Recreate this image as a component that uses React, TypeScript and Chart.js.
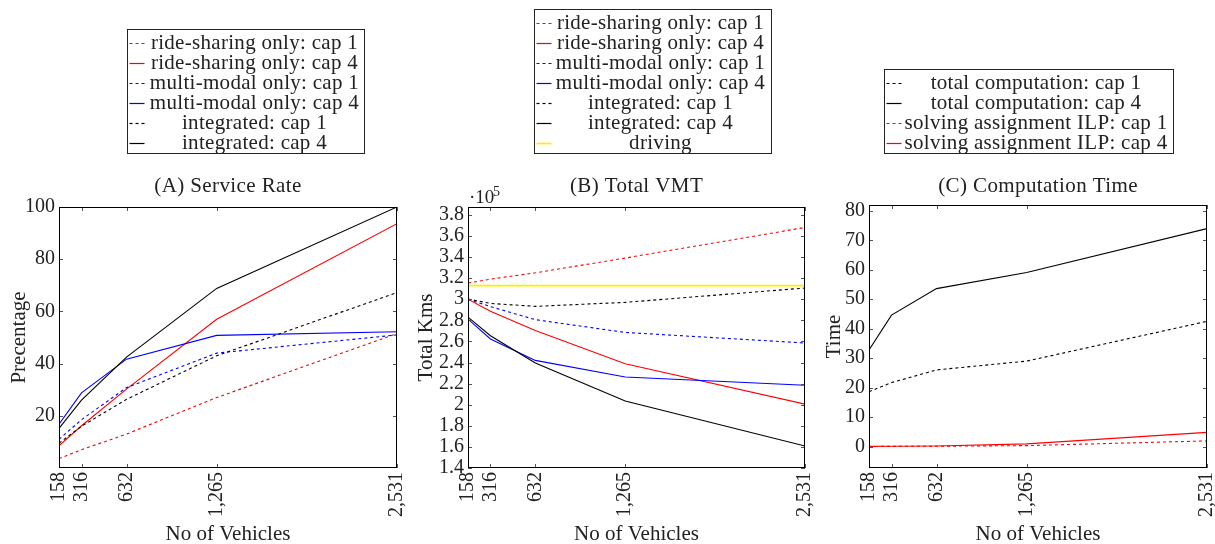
import React, { useEffect, useRef } from "react";
import { Chart, registerables } from "chart.js";

Chart.register(...registerables);

const W = 1215;
const H = 544;
const FONT = '"Liberation Serif", "Times New Roman", serif';
const TEXT = "#222";

// ---------- data ----------
const vehicles = [158, 316, 632, 1265, 2531];

// (A) Service Rate, percentage
const srRideCap1 = [3.6, 7, 13, 27, 51.5];
const srRideCap4 = [8.5, 16.2, 30.2, 57, 93.6];
const srMultiCap1 = [11, 18.5, 30.8, 44, 51];
const srMultiCap4 = [16.8, 28.8, 41.7, 50.8, 52.2];
const srIntCap1 = [9.5, 16, 26.3, 43, 67.2];
const srIntCap4 = [15.2, 26, 42.5, 68.8, 100];
const srTicks = [20, 40, 60, 80, 100];

// (B) Total VMT, km
const vmtRideCap1 = [315400, 319000, 325000, 339000, 368000];
const vmtRideCap4 = [300000, 288500, 270400, 238900, 200500];
const vmtMultiCap1 = [300000, 293000, 280600, 268500, 258500];
const vmtMultiCap4 = [281200, 262300, 242000, 226200, 218400];
const vmtIntCap1 = [300200, 296000, 293200, 297000, 310600];
const vmtIntCap4 = [283000, 265400, 239500, 203500, 160900];
const vmtDriving = [312800, 312800, 312800, 312800, 312800];
const vmtTicks = [140000, 160000, 180000, 200000, 220000, 240000, 260000, 280000, 300000, 320000, 340000, 360000, 380000];

// (C) Computation Time
const ctTotalCap1 = [18.6, 21.7, 26, 29, 42.5];
const ctTotalCap4 = [32.8, 44.6, 53.6, 59.1, 74];
const ctIlpCap1 = [0, 0.05, 0.1, 0.3, 1.9];
const ctIlpCap4 = [0.05, 0.08, 0.15, 0.9, 4.8];
const ctTicks = [0, 10, 20, 30, 40, 50, 60, 70, 80];

const RED = "#ff0000";
const BLUE = "#0000ff";
const BLACK = "#000000";
const YELLOW = "#ffee00";

type Series = { label: string; data: number[]; color: string; dashed: boolean; width?: number };

type Panel = {
  plot: { left: number; top: number; right: number; bottom: number };
  yMin: number;
  yMax: number;
  yTicks: number[];
  yFmt: (v: number) => string;
  series: Series[];
  title: string;
  yTitle: string;
  yTitleX: number;
  legend: { left: number; top: number; right: number; bottom: number; textCenter: number; firstBaseline: number };
  extra?: (ctx: CanvasRenderingContext2D) => void;
};

const panels: Panel[] = [
  {
    plot: { left: 59, top: 207, right: 397, bottom: 468 },
    yMin: 0,
    yMax: 100,
    yTicks: srTicks,
    yFmt: (v) => String(v),
    series: [
      { label: "ride-sharing only: cap 1", data: srRideCap1, color: RED, dashed: true },
      { label: "ride-sharing only: cap 4", data: srRideCap4, color: RED, dashed: false },
      { label: "multi-modal only: cap 1", data: srMultiCap1, color: BLUE, dashed: true },
      { label: "multi-modal only: cap 4", data: srMultiCap4, color: BLUE, dashed: false },
      { label: "integrated: cap 1", data: srIntCap1, color: BLACK, dashed: true },
      { label: "integrated: cap 4", data: srIntCap4, color: BLACK, dashed: false },
    ],
    title: "(A) Service Rate",
    yTitle: "Precentage",
    yTitleX: 25,
    legend: { left: 127, top: 29, right: 364, bottom: 153, textCenter: 254.5, firstBaseline: 48.5 },
  },
  {
    plot: { left: 468, top: 207, right: 805, bottom: 468 },
    yMin: 140000,
    yMax: 387400,
    yTicks: vmtTicks,
    yFmt: (v) => String(Math.round(v / 1e4) / 10),
    series: [
      { label: "ride-sharing only: cap 1", data: vmtRideCap1, color: RED, dashed: true },
      { label: "ride-sharing only: cap 4", data: vmtRideCap4, color: RED, dashed: false },
      { label: "multi-modal only: cap 1", data: vmtMultiCap1, color: BLUE, dashed: true },
      { label: "multi-modal only: cap 4", data: vmtMultiCap4, color: BLUE, dashed: false },
      { label: "integrated: cap 1", data: vmtIntCap1, color: BLACK, dashed: true },
      { label: "integrated: cap 4", data: vmtIntCap4, color: BLACK, dashed: false },
      { label: "driving", data: vmtDriving, color: YELLOW, dashed: false, width: 1.7 },
    ],
    title: "(B) Total VMT",
    yTitle: "Total Kms",
    yTitleX: 431.5,
    legend: { left: 534, top: 9, right: 771, bottom: 153, textCenter: 660.5, firstBaseline: 28.5 },
    extra: (ctx) => {
      ctx.fillStyle = TEXT;
      ctx.textAlign = "left";
      ctx.textBaseline = "alphabetic";
      ctx.font = `19px ${FONT}`;
      ctx.fillText("·10", 469, 203);
      ctx.font = `14px ${FONT}`;
      ctx.fillText("5", 493, 196);
    },
  },
  {
    plot: { left: 869, top: 205, right: 1207, bottom: 468 },
    yMin: -7.3,
    yMax: 82,
    yTicks: ctTicks,
    yFmt: (v) => String(v),
    series: [
      { label: "total computation: cap 1", data: ctTotalCap1, color: BLACK, dashed: true },
      { label: "total computation: cap 4", data: ctTotalCap4, color: BLACK, dashed: false },
      { label: "solving assignment ILP: cap 1", data: ctIlpCap1, color: RED, dashed: true },
      { label: "solving assignment ILP: cap 4", data: ctIlpCap4, color: RED, dashed: false },
    ],
    title: "(C) Computation Time",
    yTitle: "Time",
    yTitleX: 840,
    legend: { left: 884, top: 69, right: 1173, bottom: 153, textCenter: 1036, firstBaseline: 88.5 },
  },
];

const YW = 50;

function makeDecor(p: Panel) {
  return {
    id: "decor",
    afterDatasetsDraw(chart: any) {
      const { ctx, chartArea: a } = chart;
      const xs = chart.scales.x;
      const ys = chart.scales.y;
      ctx.save();
      ctx.setLineDash([]);
      ctx.lineWidth = 1;
      ctx.strokeStyle = "#555";
      ctx.beginPath();
      for (const v of vehicles) {
        const px = Math.round(xs.getPixelForValue(v)) + 0.5;
        ctx.moveTo(px, a.bottom);
        ctx.lineTo(px, a.bottom - 4);
        ctx.moveTo(px, a.top);
        ctx.lineTo(px, a.top + 4);
      }
      for (const v of p.yTicks) {
        const py = Math.round(ys.getPixelForValue(v)) + 0.5;
        ctx.moveTo(a.left, py);
        ctx.lineTo(a.left + 4, py);
        ctx.moveTo(a.right, py);
        ctx.lineTo(a.right - 4, py);
      }
      ctx.stroke();
      ctx.strokeStyle = "#000";
      ctx.strokeRect(a.left + 0.5, a.top + 0.5, a.right - a.left - 1, a.bottom - a.top - 1);
      ctx.restore();
    },
    afterDraw(chart: any) {
      const { ctx, chartArea: a } = chart;
      const cx = (a.left + a.right) / 2;
      ctx.save();
      ctx.fillStyle = TEXT;
      ctx.textBaseline = "alphabetic";
      // title
      ctx.textAlign = "center";
      ctx.font = `21px ${FONT}`;
      (ctx as any).letterSpacing = "0.4px";
      ctx.fillText(p.title, cx, 192);
      (ctx as any).letterSpacing = "0px";
      // x title
      ctx.fillText("No of Vehicles", cx, 540);
      // y title
      ctx.save();
      ctx.translate(p.yTitleX, (a.top + a.bottom) / 2);
      ctx.rotate(-Math.PI / 2);
      ctx.fillText(p.yTitle, 0, 0);
      ctx.restore();
      if (p.extra) p.extra(ctx);
      // legend box and text
      const L = p.legend;
      ctx.lineWidth = 1;
      ctx.setLineDash([]);
      ctx.strokeStyle = "#222";
      ctx.strokeRect(L.left + 0.5, L.top + 0.5, L.right - L.left, L.bottom - L.top);
      ctx.fillStyle = TEXT;
      ctx.font = `21px ${FONT}`;
      ctx.textAlign = "center";
      (ctx as any).letterSpacing = "0.3px";
      p.series.forEach((s, i) => {
        ctx.fillText(s.label, L.textCenter, L.firstBaseline + i * 20);
      });
      (ctx as any).letterSpacing = "0px";
      ctx.restore();
      // legend samples
      p.series.forEach((s, i) => {
        const ly = Math.round(L.firstBaseline + i * 20 - 6) + 0.5;
        ctx.save();
        ctx.lineWidth = s.width ? s.width : 1.2;
        ctx.strokeStyle = s.color;
        ctx.setLineDash(s.dashed ? [3, 3] : []);
        ctx.beginPath();
        ctx.moveTo(L.left + 2.5, ly);
        ctx.lineTo(L.left + 17.5, ly);
        ctx.stroke();
        ctx.restore();
      });
    },
  };
}

function PanelChart({ p }: { p: Panel }) {
  const ref = useRef<HTMLCanvasElement | null>(null);
  useEffect(() => {
    if (!ref.current) return;
    const chart = new Chart(ref.current, {
      type: "line",
      data: {
        datasets: p.series.map((s, i) => ({
          label: s.label,
          data: vehicles.map((x, k) => ({ x, y: s.data[k] })),
          borderColor: s.color,
          backgroundColor: s.color,
          borderWidth: s.width ? s.width : 1.1,
          borderDash: s.dashed ? [3, 3] : [],
          pointRadius: 0,
          tension: 0,
          fill: false,
          order: -i,
        })),
      },
      options: {
        responsive: false,
        animation: false,
        events: [],
        layout: {
          padding: { left: p.plot.left - YW, top: p.plot.top, right: W - p.plot.right, bottom: 0 },
        },
        plugins: {
          legend: { display: false },
          title: { display: false },
          tooltip: { enabled: false },
        },
        scales: {
          x: {
            type: "linear",
            position: "bottom",
            min: vehicles[0],
            max: vehicles[vehicles.length - 1],
            grid: { display: false, drawTicks: false },
            border: { display: false },
            afterBuildTicks: (s: any) => {
              s.ticks = vehicles.map((v) => ({ value: v }));
            },
            afterFit: (s: any) => {
              s.height = H - p.plot.bottom;
              s.paddingLeft = 0;
              s.paddingRight = 0;
            },
            ticks: {
              autoSkip: false,
              minRotation: 90,
              maxRotation: 90,
              padding: 4,
              color: TEXT,
              font: { family: FONT, size: 20 },
              callback: (v: any) => Number(v).toLocaleString("en-US"),
            },
          },
          y: {
            type: "linear",
            position: "left",
            min: p.yMin,
            max: p.yMax,
            grid: { display: false, drawTicks: false },
            border: { display: false },
            afterBuildTicks: (s: any) => {
              s.ticks = p.yTicks.map((v) => ({ value: v }));
            },
            afterFit: (s: any) => {
              s.width = YW;
              s.paddingTop = 0;
              s.paddingBottom = 0;
            },
            ticks: {
              autoSkip: false,
              padding: 4,
              color: TEXT,
              font: { family: FONT, size: 20 },
              callback: (v: any) => p.yFmt(Number(v)),
            },
          },
        },
      } as any,
      plugins: [makeDecor(p)],
    });
    return () => chart.destroy();
  }, [p]);
  return (
    <canvas
      ref={ref}
      width={W}
      height={H}
      style={{ position: "absolute", left: 0, top: 0, width: W, height: H }}
    />
  );
}

export default function App() {
  useEffect(() => {
    document.body.style.margin = "0";
    document.body.style.background = "#fff";
  }, []);
  return (
    <div style={{ position: "relative", width: W, height: H, background: "#fff" }}>
      {panels.map((p, i) => (
        <PanelChart key={i} p={p} />
      ))}
    </div>
  );
}
